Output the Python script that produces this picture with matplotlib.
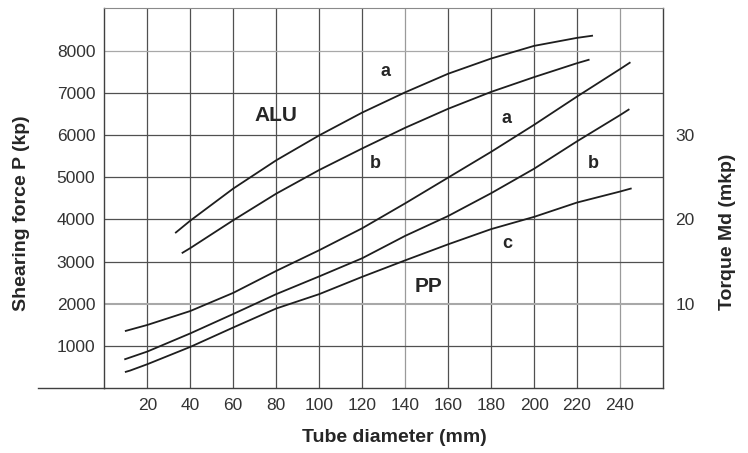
import numpy as np
import matplotlib.pyplot as plt

plt.rcParams['font.family'] = ['Liberation Sans', 'DejaVu Sans']

# curves: tube diameter (mm) -> shearing force (kp)
alu_a_x = [33.3, 40, 60, 80, 100, 120, 140, 160, 180, 200, 220, 227]
alu_a_y = [3690, 3970, 4730, 5400, 5990, 6530, 7010, 7450, 7810, 8110, 8300, 8350]

alu_b_x = [36.4, 40, 60, 80, 100, 120, 140, 160, 180, 200, 220, 225.4]
alu_b_y = [3210, 3320, 3980, 4610, 5170, 5680, 6170, 6620, 7020, 7370, 7700, 7780]

pp_a_x = [10, 20, 40, 60, 80, 100, 120, 140, 160, 180, 200, 220, 240, 244.5]
pp_a_y = [1360, 1500, 1830, 2260, 2780, 3270, 3790, 4380, 4990, 5600, 6240, 6910, 7560, 7710]

pp_b_x = [9.7, 20, 40, 60, 80, 100, 120, 140, 160, 180, 200, 220, 240, 244]
pp_b_y = [690, 870, 1300, 1760, 2230, 2650, 3080, 3610, 4080, 4620, 5200, 5850, 6470, 6600]

pp_c_x = [10, 12, 20, 40, 60, 80, 100, 120, 140, 160, 180, 200, 220, 240, 245]
pp_c_y = [390, 420, 570, 980, 1440, 1890, 2230, 2640, 3030, 3410, 3770, 4060, 4400, 4660, 4730]

# text labels on the chart
labels = ['ALU', 'a', 'b', 'a', 'b', 'c', 'PP']
label_x = [80, 131, 126, 187.3, 227.4, 187.6, 150.7]
label_y = [6450, 7500, 5330, 6380, 5330, 3430, 2420]
label_size = [15, 13, 13, 13, 13, 13, 15]

x_ticks = list(range(20, 260, 20))
y_ticks = list(range(1000, 9000, 1000))
torque_ticks = [10, 20, 30]

fig = plt.figure(figsize=(7.48, 4.53), dpi=100)
ax = fig.add_axes([104.3 / 748, 1 - 388.3 / 453, (663 - 104.3) / 748, (388.3 - 8.3) / 453])
ax.set_xlim(0, 260)
ax.set_ylim(0, 9000)

# grid (a couple of lines look lighter in the scan)
for gx in range(20, 260, 20):
    c = '#9a9a9a' if gx in (140, 240) else '#505050'
    ax.axvline(gx, color=c, lw=0.9, zorder=1)
for gy in range(1000, 9000, 1000):
    c = '#a8a8a8' if gy in (2000, 8000) else '#505050'
    lw = 1.5 if gy == 2000 else 0.9
    ax.axhline(gy, color=c, lw=lw, zorder=1)

for xs, ys in [(alu_a_x, alu_a_y), (alu_b_x, alu_b_y),
               (pp_a_x, pp_a_y), (pp_b_x, pp_b_y), (pp_c_x, pp_c_y)]:
    ax.plot(xs, ys, color='#1e1e1e', lw=1.3, zorder=3)

for t, x, y, s in zip(labels, label_x, label_y, label_size):
    ax.text(x, y, t, ha='center', va='center', fontsize=s,
            fontweight='bold', color='#262626', zorder=4)

ax.set_xticks(x_ticks)
ax.set_xticklabels([str(v) for v in x_ticks])
ax.set_yticks(y_ticks)
ax.set_yticklabels([str(v) for v in y_ticks])
ax.tick_params(length=0, labelsize=12.5, colors='#333333')
ax.tick_params(axis='x', pad=7)
ax.tick_params(axis='y', pad=6.5)

for side in ['left', 'right', 'bottom']:
    ax.spines[side].set_color('#404040')
    ax.spines[side].set_linewidth(1)
ax.spines['top'].set_color('#8a8a8a')

# bottom axis line runs out to the left of the frame
ax.plot([-31, 0], [0, 0], color='#404040', lw=1, clip_on=False)

ax2 = ax.twinx()
ax2.set_ylim(0, 45)
ax2.set_yticks(torque_ticks)
ax2.set_yticklabels([str(v) for v in torque_ticks])
ax2.tick_params(length=0, labelsize=12.5, colors='#333333', pad=9)
for side in ax2.spines:
    ax2.spines[side].set_visible(False)

fig.text(22 / 748, 1 - 213 / 453, 'Shearing force P (kp)', rotation=90,
         ha='center', va='center', fontsize=14, fontweight='bold', color='#262626')
fig.text(394.5 / 748, 1 - 438 / 453, 'Tube diameter (mm)',
         ha='center', va='center', fontsize=14, fontweight='bold', color='#262626')
fig.text(728 / 748, 1 - 232 / 453, 'Torque Md (mkp)', rotation=90,
         ha='center', va='center', fontsize=14, fontweight='bold', color='#262626')

fig.savefig('out.png', dpi=100)
